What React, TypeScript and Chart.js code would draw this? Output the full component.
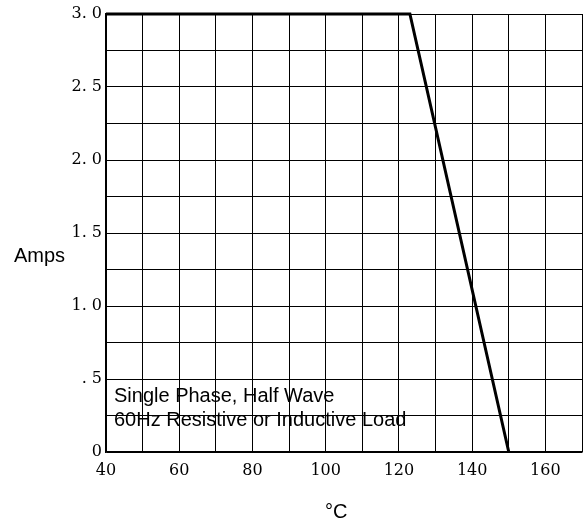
import React, { useEffect, useRef } from "react";
import { Chart, registerables } from "chart.js";

Chart.register(...registerables);

// Derating curve: temperature (°C) vs. current (Amps)
const temperatures = [40, 123, 150];
const amps = [3.0, 3.0, 0];

const yTickValues = [0, 0.5, 1.0, 1.5, 2.0, 2.5, 3.0];
const yTickLabels = ["0", ". 5", "1. 0", "1. 5", "2. 0", "2. 5", "3. 0"];
const xTickValues = [40, 60, 80, 100, 120, 140, 160];
const xTickLabels = ["40", "60", "80", "100", "120", "140", "160"];

const yTitle = "Amps";
const xTitle = "°C";
const noteLines = ["Single Phase, Half Wave", "60Hz Resistive or Inductive Load"];

const SERIF = "'DejaVu Serif', serif";
const SANS = "'Liberation Sans', Arial, sans-serif";

const textPlugin = {
  id: "textPlugin",
  afterDraw(chart: any) {
    const ctx = chart.ctx;
    ctx.save();
    ctx.fillStyle = "#000";
    ctx.font = `20px ${SANS}`;
    ctx.textAlign = "left";
    ctx.textBaseline = "alphabetic";
    ctx.fillText(yTitle, 14, 262);
    ctx.fillText(xTitle, 325, 518);
    ctx.fillText(noteLines[0], 114, 402);
    ctx.fillText(noteLines[1], 114, 426);
    ctx.restore();
  },
};

export default function App() {
  const ref = useRef<HTMLCanvasElement>(null);

  useEffect(() => {
    document.body.style.margin = "0";
    const canvas = ref.current;
    if (!canvas) return;
    const chart = new Chart(canvas, {
      type: "line",
      data: {
        datasets: [
          {
            data: temperatures.map((t, i) => ({ x: t, y: amps[i] })),
            borderColor: "#000",
            borderWidth: 3,
            pointRadius: 0,
            tension: 0,
            fill: false,
            clip: false as any,
          },
        ],
      },
      options: {
        responsive: false,
        animation: false,
        devicePixelRatio: 1,
        layout: { padding: { left: 0, top: 14, right: 2, bottom: 0 } },
        plugins: {
          legend: { display: false },
          tooltip: { enabled: false },
        },
        scales: {
          x: {
            type: "linear",
            min: 40,
            max: 170,
            afterFit: (s: any) => {
              s.height = 70;
              s.paddingLeft = 0;
              s.paddingRight = 0;
            },
            grid: { color: "#000", lineWidth: 1, drawTicks: false },
            border: { color: "#000", width: 1.5 },
            ticks: {
              stepSize: 10,
              padding: 9,
              color: "#000",
              font: { family: SERIF, size: 16 },
              maxRotation: 0,
              autoSkip: false,
              callback: (v: any) => {
                const i = xTickValues.indexOf(Number(v));
                return i >= 0 ? xTickLabels[i] : "";
              },
            },
          },
          y: {
            type: "linear",
            min: 0,
            max: 3,
            afterFit: (s: any) => {
              s.width = 106;
              s.paddingTop = 0;
              s.paddingBottom = 0;
            },
            grid: { color: "#000", lineWidth: 1, drawTicks: false },
            border: { color: "#000", width: 1.5 },
            ticks: {
              stepSize: 0.25,
              padding: 4,
              color: "#000",
              font: { family: SERIF, size: 16 },
              autoSkip: false,
              callback: (v: any) => {
                const n = Number(v);
                const i = yTickValues.findIndex((t) => Math.abs(t - n) < 1e-6);
                return i >= 0 ? yTickLabels[i] : "";
              },
            },
          },
        },
      },
      plugins: [textPlugin],
    });
    return () => chart.destroy();
  }, []);

  return (
    <div style={{ width: 584, height: 522, background: "#fff" }}>
      <canvas ref={ref} width={584} height={522} style={{ display: "block" }} />
    </div>
  );
}
